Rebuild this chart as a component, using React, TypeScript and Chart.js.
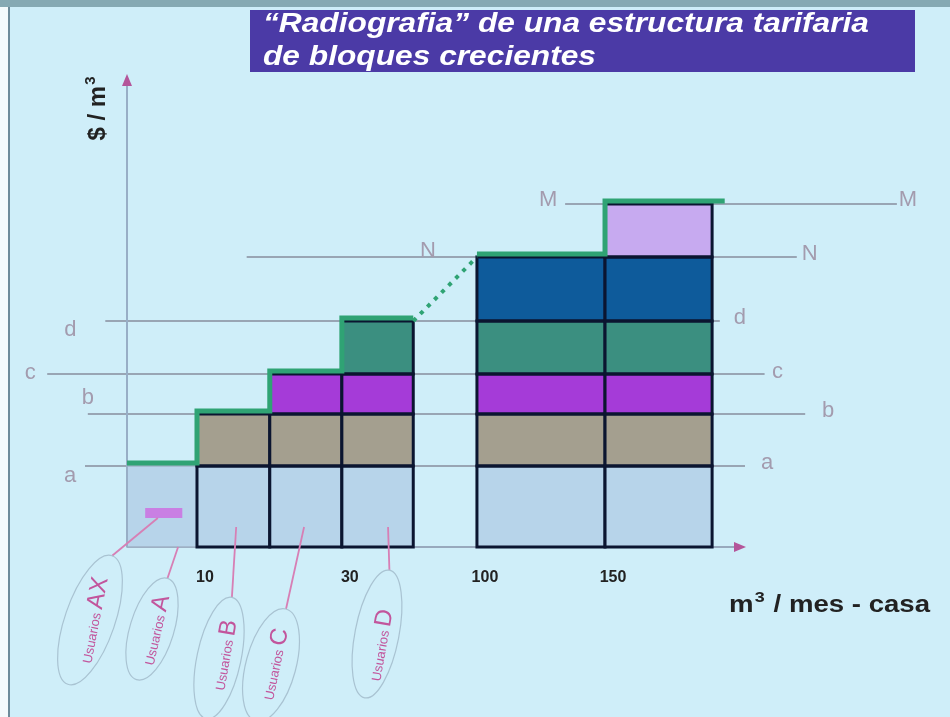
import React, { useEffect, useRef } from "react";
import { Chart, registerables } from "chart.js";
Chart.register(...registerables);

// ---------- data ----------
const blockEdges = [0, 10, 20.4, 30.7, 40.9, 50, 68.3, 83.6];
const blockLayerCounts = [1, 2, 3, 4, 0, 5, 6];
const levelNames = ["a", "b", "c", "d", "N", "M"];
const levelValues = [8.1, 13.3, 17.3, 22.6, 29.0, 34.3];
const levelLineFrom = [-6, -5.6, -11.4, -3.1, 17.1, 62.6];
const levelLineTo = [88.3, 96.9, 91.1, 84.7, 95.7, 110];
const tariffLowX = [0, 10, 20.4, 30.7, 40.9];
const tariffLowY = [8.1, 13.3, 17.3, 22.6, 22.6];
const tariffHighX = [50, 68.3, 85.4];
const tariffHighY = [29.0, 34.3, 34.3];
const xTickValues = [10, 30.7, 50, 68.3];
const xTickLabels = ["10", "30", "100", "150"];
const userGroups = ["AX", "A", "B", "C", "D"];
const userTargetX = [4.4, 7.3, 15.6, 25.3, 37.3];
const userTargetY = [2.9, 0, 2.0, 2.0, 2.0];
const axMarkerX = [2.6, 7.9];
const axMarkerY = [2.9, 3.9];

const titleLines = ["\u201CRadiografia\u201D de una estructura tarifaria", "de bloques crecientes"];
const yAxisTitle = ["$ / m", "3"];
const xAxisTitle = ["m", "3", " / mes - casa"];

// ---------- styles ----------
const FONT = "'Liberation Sans', Arial, sans-serif";
const layerColors = ["#b7d4ea", "#a49f8f", "#a53bd8", "#3b8f80", "#0e5b9b", "#c7aaf0"];
const green = "#2fa374";
const labelColor = "#a39bae";
const levelLabelStyle = [
  { ldx: -15, ldy: 10, rdx: 22, rdy: -3 },
  { ldx: 0, ldy: -16, rdx: 23, rdy: -3 },
  { ldx: -17, ldy: -1, rdx: 13, rdy: -2 },
  { ldx: -35, ldy: 9, rdx: 20, rdy: -3 },
  { lAt: 43, ldy: -6, rdx: 13, rdy: -3 },
  { ldx: -17, ldy: -4, rdx: 11, rdy: -4 },
];
const ellipseStyle = [
  { cx: 90, cy: 620, rx: 68, ry: 25, ang: -71, tx: 93, ty: 620, tang: -79 },
  { cx: 152, cy: 629, rx: 53, ry: 22, ang: -73, tx: 155, ty: 630, tang: -77 },
  { cx: 219, cy: 658, rx: 62, ry: 22, ang: -78, tx: 224, ty: 655, tang: -80 },
  { cx: 271, cy: 665, rx: 58, ry: 25, ang: -75, tx: 274, ty: 664, tang: -78 },
  { cx: 377, cy: 634, rx: 65, ry: 22, ang: -79, tx: 380, ty: 645, tang: -80 },
];

function fitText(ctx: any, text: string, font: string, x: number, y: number, width: number) {
  ctx.font = font;
  const w = ctx.measureText(text).width;
  ctx.save();
  ctx.translate(x, y);
  ctx.scale(width / w, 1);
  ctx.fillText(text, 0, 0);
  ctx.restore();
}

const drawPlugin = {
  id: "radiografia",
  beforeDraw(chart: any) {
    const ctx = chart.ctx;
    ctx.save();
    ctx.fillStyle = "#cfeef9";
    ctx.fillRect(0, 0, 950, 717);
    ctx.fillStyle = "#f4fafc";
    ctx.fillRect(0, 0, 8, 717);
    ctx.fillStyle = "#86a9b3";
    ctx.fillRect(0, 0, 950, 7);
    ctx.fillStyle = "#6d8b9a";
    ctx.fillRect(8, 7, 2, 710);
    // title box
    ctx.fillStyle = "#4b3aa6";
    ctx.fillRect(250, 10, 665, 62);
    ctx.fillStyle = "#ffffff";
    ctx.textBaseline = "alphabetic";
    ctx.textAlign = "left";
    fitText(ctx, titleLines[0], `italic bold 27px ${FONT}`, 263, 32, 606);
    fitText(ctx, titleLines[1], `italic bold 27px ${FONT}`, 263, 65, 333);
    ctx.restore();
  },
  beforeDatasetsDraw(chart: any) {
    const ctx = chart.ctx;
    const X = (v: number) => chart.scales.x.getPixelForValue(v);
    const Y = (v: number) => chart.scales.y.getPixelForValue(v);
    ctx.save();
    // level lines
    ctx.strokeStyle = "#878c9c";
    ctx.lineWidth = 1.5;
    levelValues.forEach((v, i) => {
      ctx.beginPath();
      ctx.moveTo(X(levelLineFrom[i]), Y(v));
      ctx.lineTo(X(levelLineTo[i]), Y(v));
      ctx.stroke();
    });
    // x axis line
    ctx.strokeStyle = "#98a9bd";
    ctx.lineWidth = 2;
    ctx.beginPath();
    ctx.moveTo(X(0), Y(0));
    ctx.lineTo(chart.chartArea.right - 4, Y(0));
    ctx.stroke();
    // blocks
    for (let i = 0; i < blockLayerCounts.length; i++) {
      const n = blockLayerCounts[i];
      if (!n) continue;
      const x0 = X(blockEdges[i]);
      const x1 = X(blockEdges[i + 1]);
      for (let j = 0; j < n; j++) {
        const yb = Y(j === 0 ? 0 : levelValues[j - 1]);
        const yt = Y(levelValues[j]);
        ctx.fillStyle = layerColors[j];
        ctx.fillRect(x0, yt, x1 - x0, yb - yt);
      }
      if (i > 0) {
        ctx.strokeStyle = "#0b1530";
        ctx.lineWidth = 3;
        for (let j = 0; j < n; j++) {
          const yb = Y(j === 0 ? 0 : levelValues[j - 1]);
          const yt = Y(levelValues[j]);
          ctx.strokeRect(x0, yt, x1 - x0, yb - yt);
        }
      } else {
        ctx.strokeStyle = "#9fb2c6";
        ctx.lineWidth = 1.5;
        ctx.strokeRect(x0, Y(levelValues[0]), x1 - x0, Y(0) - Y(levelValues[0]));
      }
    }
    // AX marker
    ctx.fillStyle = "#c97fe3";
    ctx.fillRect(X(axMarkerX[0]), Y(axMarkerY[1]), X(axMarkerX[1]) - X(axMarkerX[0]), Y(axMarkerY[0]) - Y(axMarkerY[1]));
    // y axis
    ctx.strokeStyle = "#98aec6";
    ctx.lineWidth = 2;
    ctx.beginPath();
    ctx.moveTo(X(0), Y(0));
    ctx.lineTo(X(0), chart.chartArea.top + 6);
    ctx.stroke();
    ctx.fillStyle = "#b4559a";
    ctx.beginPath();
    ctx.moveTo(X(0), chart.chartArea.top - 1);
    ctx.lineTo(X(0) - 5, chart.chartArea.top + 11);
    ctx.lineTo(X(0) + 5, chart.chartArea.top + 11);
    ctx.closePath();
    ctx.fill();
    const r = chart.chartArea.right;
    ctx.beginPath();
    ctx.moveTo(r + 1, Y(0));
    ctx.lineTo(r - 11, Y(0) - 5);
    ctx.lineTo(r - 11, Y(0) + 5);
    ctx.closePath();
    ctx.fill();
    ctx.restore();
  },
  beforeDatasetDraw(chart: any, args: any) {
    if (args.index < 2) {
      chart.ctx.save();
      chart.ctx.translate(0, -3);
    }
  },
  afterDatasetDraw(chart: any, args: any) {
    if (args.index < 2) chart.ctx.restore();
  },
  afterDatasetsDraw(chart: any) {
    const ctx = chart.ctx;
    const X = (v: number) => chart.scales.x.getPixelForValue(v);
    const Y = (v: number) => chart.scales.y.getPixelForValue(v);
    ctx.save();
    // level labels
    ctx.fillStyle = labelColor;
    ctx.font = `22px ${FONT}`;
    ctx.textAlign = "center";
    ctx.textBaseline = "middle";
    levelNames.forEach((name, i) => {
      const s: any = levelLabelStyle[i];
      const y = Y(levelValues[i]);
      const lx = s.lAt !== undefined ? X(s.lAt) : X(levelLineFrom[i]) + s.ldx;
      ctx.fillText(name, lx, y + s.ldy);
      ctx.fillText(name, X(levelLineTo[i]) + s.rdx, y + s.rdy);
    });
    // tick labels
    ctx.fillStyle = "#222222";
    ctx.font = `bold 16px ${FONT}`;
    xTickValues.forEach((v, i) => {
      ctx.fillText(xTickLabels[i], X(v) + 8, 578);
    });
    // x axis title
    ctx.textAlign = "left";
    ctx.textBaseline = "alphabetic";
    ctx.font = `bold 23px ${FONT}`;
    const a0 = ctx.measureText(xAxisTitle[0]).width;
    const a2 = ctx.measureText(xAxisTitle[2]).width;
    ctx.font = `bold 15px ${FONT}`;
    const a1 = ctx.measureText(xAxisTitle[1]).width;
    const k = 201 / (a0 + a1 + a2 + 2);
    ctx.save();
    ctx.translate(729, 612);
    ctx.scale(k, 1);
    ctx.font = `bold 23px ${FONT}`;
    ctx.fillText(xAxisTitle[0], 0, 0);
    ctx.fillText(xAxisTitle[2], a0 + a1 + 2, 0);
    ctx.font = `bold 15px ${FONT}`;
    ctx.fillText(xAxisTitle[1], a0 + 1, -10);
    ctx.restore();
    // y axis title
    ctx.save();
    ctx.translate(105, 109);
    ctx.rotate(-Math.PI / 2);
    ctx.font = `bold 24px ${FONT}`;
    const w1 = ctx.measureText(yAxisTitle[0]).width;
    ctx.font = `bold 15px ${FONT}`;
    const w2 = ctx.measureText(yAxisTitle[1]).width;
    const sx = -(w1 + w2) / 2;
    ctx.font = `bold 24px ${FONT}`;
    ctx.fillText(yAxisTitle[0], sx, 0);
    ctx.font = `bold 15px ${FONT}`;
    ctx.fillText(yAxisTitle[1], sx + w1 + 1, -10);
    ctx.restore();
    // user annotations
    userGroups.forEach((g, i) => {
      const e = ellipseStyle[i];
      const a = (e.ang * Math.PI) / 180;
      const tipX = e.cx + e.rx * Math.cos(a);
      const tipY = e.cy + e.rx * Math.sin(a);
      ctx.strokeStyle = "#d77fb5";
      ctx.lineWidth = 1.8;
      ctx.beginPath();
      ctx.moveTo(tipX, tipY);
      ctx.lineTo(X(userTargetX[i]), Y(userTargetY[i]));
      ctx.stroke();
      ctx.strokeStyle = "#a9c3d2";
      ctx.lineWidth = 1.2;
      ctx.beginPath();
      ctx.ellipse(e.cx, e.cy, e.rx, e.ry, a, 0, Math.PI * 2);
      ctx.stroke();
      ctx.save();
      ctx.translate(e.tx, e.ty);
      ctx.rotate((e.tang * Math.PI) / 180);
      ctx.fillStyle = "#c2559c";
      ctx.textBaseline = "middle";
      ctx.textAlign = "left";
      ctx.font = `13px ${FONT}`;
      const u = "Usuarios ";
      const uw = ctx.measureText(u).width;
      ctx.font = `24px ${FONT}`;
      const gw = ctx.measureText(g).width;
      const x0 = -(uw + gw) / 2;
      ctx.font = `13px ${FONT}`;
      ctx.fillText(u, x0, 3);
      ctx.font = `24px ${FONT}`;
      ctx.fillText(g, x0 + uw, 0);
      ctx.restore();
    });
    ctx.restore();
  },
};

export default function App() {
  const ref = useRef<HTMLCanvasElement>(null);
  useEffect(() => {
    if (!ref.current) return;
    const low = tariffLowX.map((x, i) => ({ x, y: tariffLowY[i] }));
    const high = tariffHighX.map((x, i) => ({ x, y: tariffHighY[i] }));
    const link = [low[low.length - 1], high[0]];
    const chart = new Chart(ref.current, {
      type: "line",
      data: {
        datasets: [
          { data: low, borderColor: green, borderWidth: 5, stepped: "before", pointRadius: 0, clip: false as any },
          { data: high, borderColor: green, borderWidth: 5, stepped: "before", pointRadius: 0, clip: false as any },
          { data: link, borderColor: green, borderWidth: 4, borderDash: [4, 6], pointRadius: 0, clip: false as any },
        ],
      },
      options: {
        responsive: false,
        animation: false,
        events: [],
        layout: { padding: { left: 127, right: 205, top: 75, bottom: 170 } },
        scales: {
          x: { type: "linear", min: 0, max: 88.3, display: false },
          y: { type: "linear", min: 0, max: 47.2, display: false },
        },
        plugins: { legend: { display: false }, tooltip: { enabled: false }, title: { display: false } },
      },
      plugins: [drawPlugin],
    });
    return () => chart.destroy();
  }, []);
  return (
    <div style={{ position: "fixed", left: 0, top: 0, width: 950, height: 717 }}>
      <canvas ref={ref} width={950} height={717} style={{ display: "block", width: 950, height: 717 }} />
    </div>
  );
}
